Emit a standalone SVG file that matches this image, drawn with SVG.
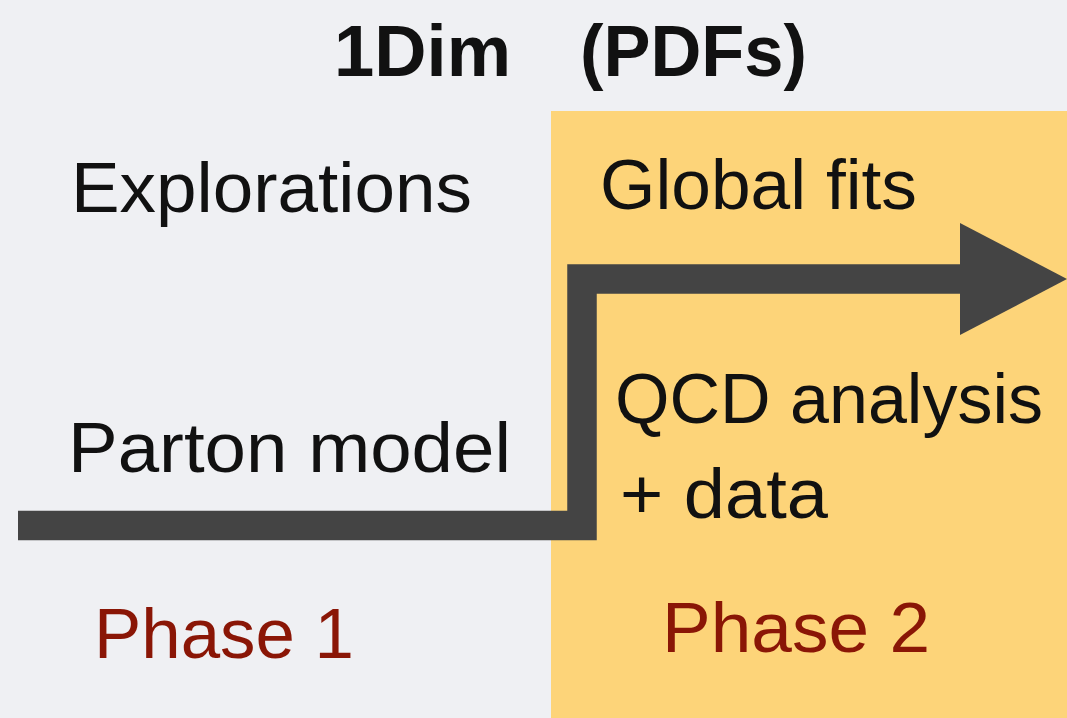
<svg xmlns="http://www.w3.org/2000/svg" width="1067" height="718" viewBox="0 0 1067 718">
  <style>
    .lbl { font-family: "Liberation Sans", Arial, sans-serif; font-size: 71px; fill: #111111; }
    .title { font-family: "Liberation Sans", Arial, sans-serif; font-size: 72px; font-weight: bold; fill: #111111; }
    .phase { font-family: "Liberation Sans", Arial, sans-serif; font-size: 71px; fill: #8a1606; }
    .flow { fill: none; stroke: #444444; stroke-width: 29.5; stroke-linejoin: miter; stroke-linecap: butt; }
  </style>
  <defs>
    <marker id="head" markerUnits="userSpaceOnUse" markerWidth="108" markerHeight="113" refX="0" refY="56" orient="auto" overflow="visible">
      <polygon points="0,0 107,56 0,112" fill="#444444"/>
    </marker>
  </defs>

  <!-- backdrop -->
  <rect x="0" y="0" width="1067" height="718" fill="#eff0f3"/>

  <!-- phase 2 panel -->
  <g id="phase2-panel">
    <rect x="551" y="111" width="516" height="607" fill="#fdd479"/>
  </g>

  <!-- title -->
  <g id="title">
    <text class="title" x="334" y="76" textLength="177" lengthAdjust="spacingAndGlyphs">1Dim</text>
    <text class="title" x="580" y="76" textLength="227" lengthAdjust="spacingAndGlyphs">(PDFs)</text>
  </g>

  <!-- connector: step arrow from phase 1 into phase 2 -->
  <g id="connectors">
    <path class="flow" d="M18,525.5 H582 V279 H960" marker-end="url(#head)"/>
  </g>

  <g id="explorations">
    <text class="lbl" x="71" y="212" textLength="401" lengthAdjust="spacingAndGlyphs">Explorations</text>
  </g>

  <g id="global-fits">
    <text class="lbl" x="600" y="209" textLength="317" lengthAdjust="spacingAndGlyphs">Global fits</text>
  </g>

  <g id="parton-model">
    <text class="lbl" x="68" y="472" textLength="443" lengthAdjust="spacingAndGlyphs">Parton model</text>
  </g>

  <g id="qcd-analysis">
    <text class="lbl" x="615" y="423" textLength="428" lengthAdjust="spacingAndGlyphs">QCD analysis</text>
    <text class="lbl" x="620" y="518" textLength="208" lengthAdjust="spacingAndGlyphs">+ data</text>
  </g>

  <g id="phase1">
    <text class="phase" x="94" y="658" textLength="260" lengthAdjust="spacingAndGlyphs">Phase 1</text>
  </g>

  <g id="phase2">
    <text class="phase" x="662" y="652" textLength="268" lengthAdjust="spacingAndGlyphs">Phase 2</text>
  </g>
</svg>
